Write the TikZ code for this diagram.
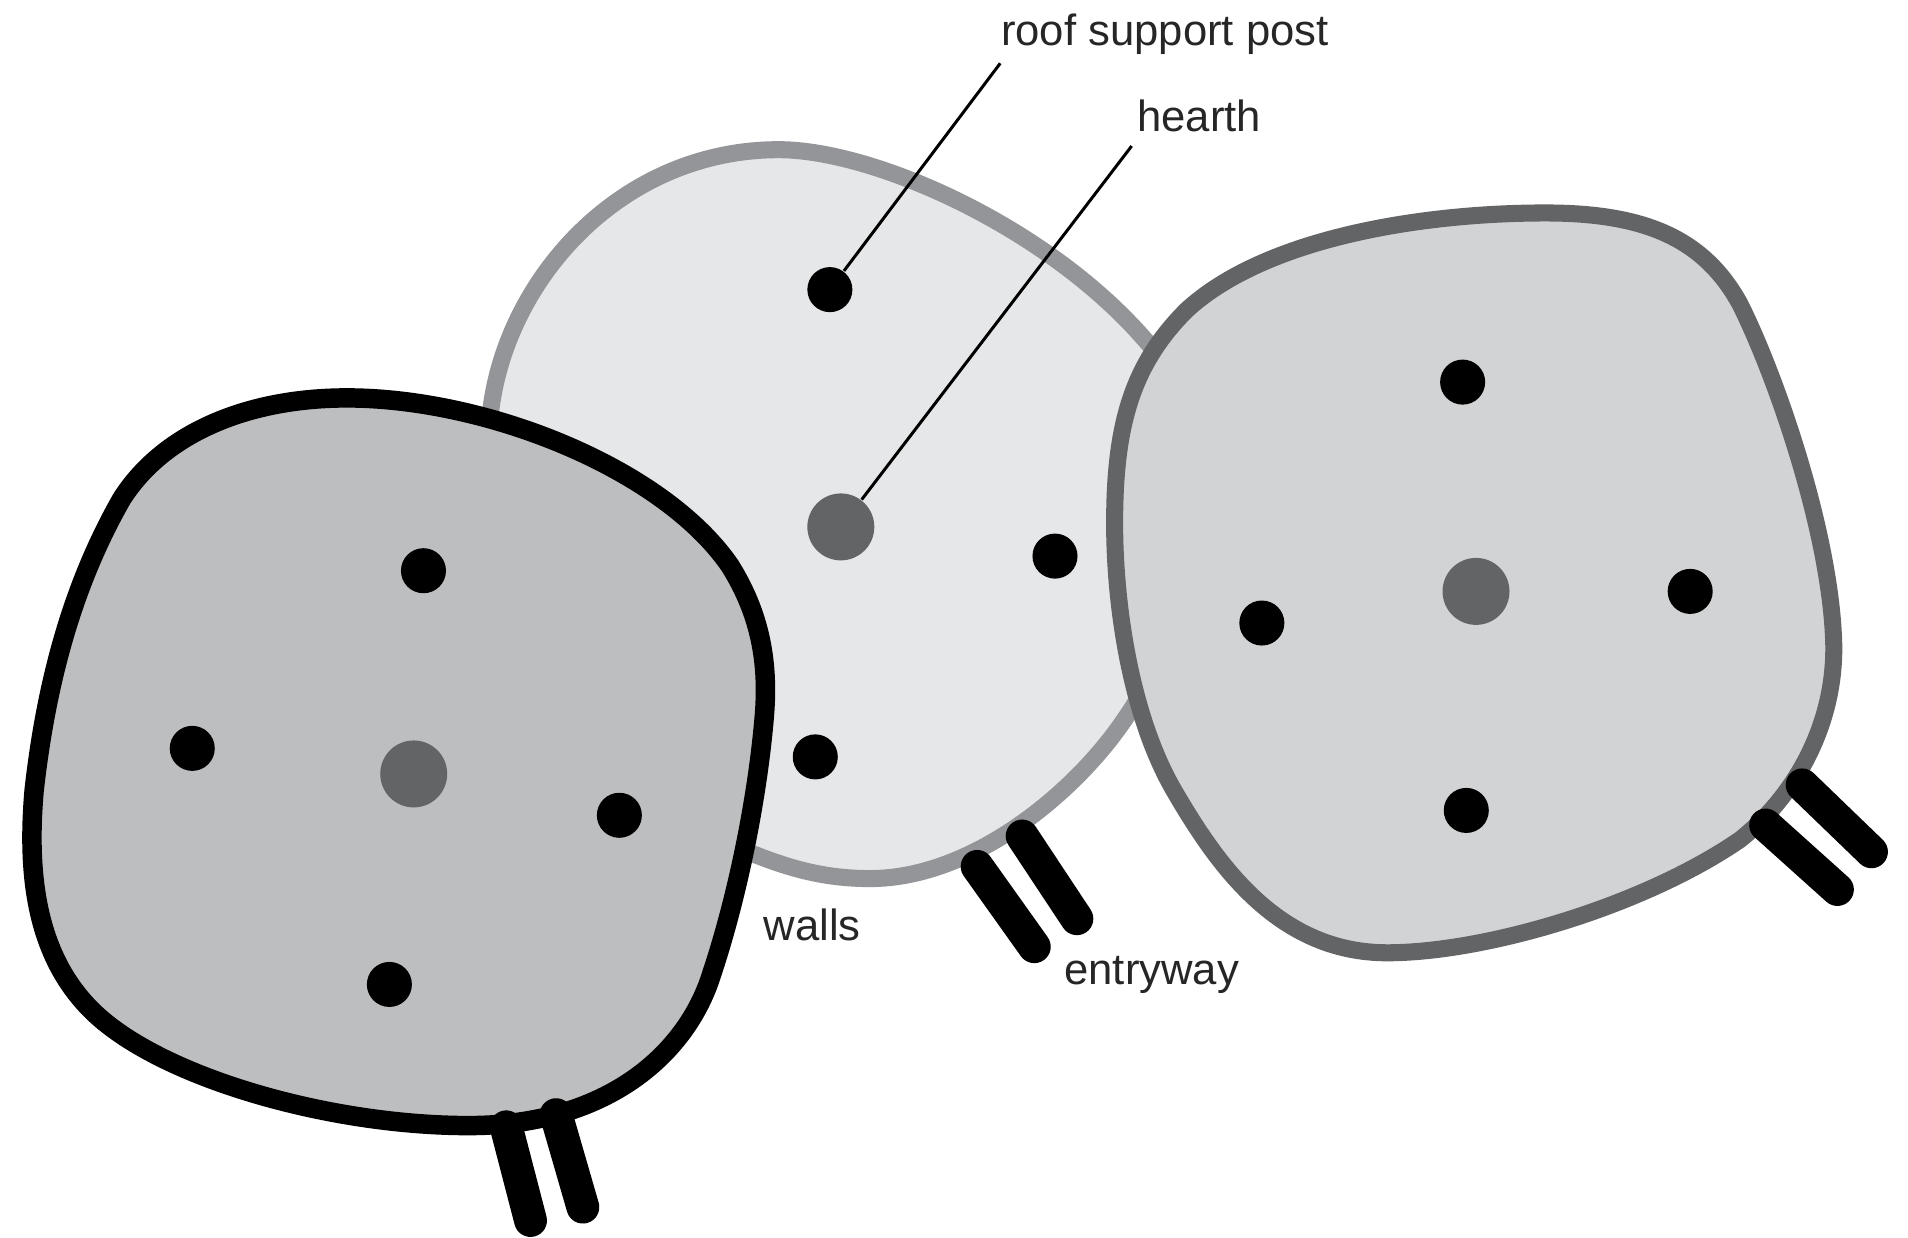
\documentclass[tikz,border=0pt]{standalone}
\usepackage{fontspec}
\setmainfont{Liberation Sans}
\definecolor{hearthc}{HTML}{636466}
\definecolor{wallA}{HTML}{000000}
\definecolor{wallB}{HTML}{939598}
\definecolor{wallC}{HTML}{636466}
\definecolor{fillA}{HTML}{BCBEC0}
\definecolor{fillB}{HTML}{E6E7E8}
\definecolor{fillC}{HTML}{D1D3D4}
\tikzset{
 post/.style={circle,fill=black,inner sep=0pt,minimum size=0.37cm},
 hearth/.style={circle,fill=hearthc,inner sep=0pt,minimum size=0.55cm},
 leader/.style={draw=black,line width=0.7pt},
 lab/.style={inner sep=0pt,font=\fontsize{10.2pt}{12pt}\selectfont,text=black!85},
 entry/.style={draw=black,line width=0.27cm,line cap=round},
 hut/.style={line width=0.14cm}
}
\begin{document}
\begin{tikzpicture}[x=0.01cm,y=-0.01cm]
\useasboundingbox[fill=white] (0,0) rectangle (1568,1017);
% middle hut
\coordinate (b1) at (803,712); \coordinate (b2) at (850,778);
\coordinate (b3) at (840,687); \coordinate (b4) at (885,755);
\draw[hut,draw=wallB,fill=fillB] (640,123)
 .. controls (720,123) and (870,190) .. (950,290)
 .. controls (975,400) and (975,520) .. (925,590)
 .. controls (885,650) and (800,722) .. (715,722)
 .. controls (680,722) and (650,715) .. (610,698)
 .. controls (520,650) and (430,500) .. (403,340)
 .. controls (415,230) and (510,123) .. (640,123) -- cycle;
\draw[entry] (b1)--(b2); \draw[entry] (b3)--(b4);
% right hut
\draw[hut,draw=wallC,fill=fillC] (1270,175)
 .. controls (1350,175) and (1400,195) .. (1430,250)
 .. controls (1460,310) and (1505,440) .. (1507,530)
 .. controls (1508,590) and (1480,650) .. (1430,690)
 .. controls (1350,745) and (1220,783) .. (1140,783)
 .. controls (1050,783) and (1000,710) .. (965,650)
 .. controls (930,590) and (916,500) .. (916,430)
 .. controls (916,350) and (930,300) .. (975,255)
 .. controls (1040,195) and (1170,175) .. (1270,175) -- cycle;
\coordinate (c1) at (1481,645); \coordinate (c2) at (1538,700);
\coordinate (c3) at (1451,678); \coordinate (c4) at (1510,731);
\draw[entry] (c1)--(c2); \draw[entry] (c3)--(c4);
% left hut
\draw[hut,draw=wallA,line width=0.16cm,fill=fillA] (285,327)
 .. controls (400,327) and (545,385) .. (600,465)
 .. controls (625,505) and (632,545) .. (628,590)
 .. controls (622,660) and (605,740) .. (585,800)
 .. controls (565,865) and (500,925) .. (385,925)
 .. controls (270,925) and (130,885) .. (75,830)
 .. controls (30,785) and (22,720) .. (28,650)
 .. controls (38,560) and (60,480) .. (100,410)
 .. controls (135,355) and (205,327) .. (285,327) -- cycle;
\coordinate (a1) at (416,926); \coordinate (a2) at (436,1003);
\coordinate (a3) at (457,916); \coordinate (a4) at (479,992);
\draw[entry] (a1)--(a2); \draw[entry] (a3)--(a4);
% posts
\node[post] (p1) at (682,238) {};
\node[post] (p2) at (867,457) {};
\node[post] (p3) at (670,622) {};
\node[hearth] (h1) at (691,433) {};
\node[post] (p4) at (1202,314) {};
\node[post] (p5) at (1037,512) {};
\node[post] (p6) at (1389,486) {};
\node[post] (p7) at (1205,666) {};
\node[hearth] (h2) at (1213,486) {};
\node[post] (p8) at (348,469) {};
\node[post] (p9) at (158,615) {};
\node[post] (p10) at (509,670) {};
\node[post] (p11) at (320,809) {};
\node[hearth] (h3) at (340,636) {};
% labels
\node[lab,anchor=west] (l1) at (822,28) {roof support post};
\node[lab,anchor=west] (l2) at (934,95) {hearth};
\node[lab,anchor=west] (l3) at (627,760) {walls};
\node[lab,anchor=west] (l4) at (874,801) {entryway};
\coordinate (t1) at (822,52); \coordinate (t2) at (930,120);
\draw[leader] (t1)--(p1);
\draw[leader] (t2)--(h1);
\end{tikzpicture}
\end{document}
